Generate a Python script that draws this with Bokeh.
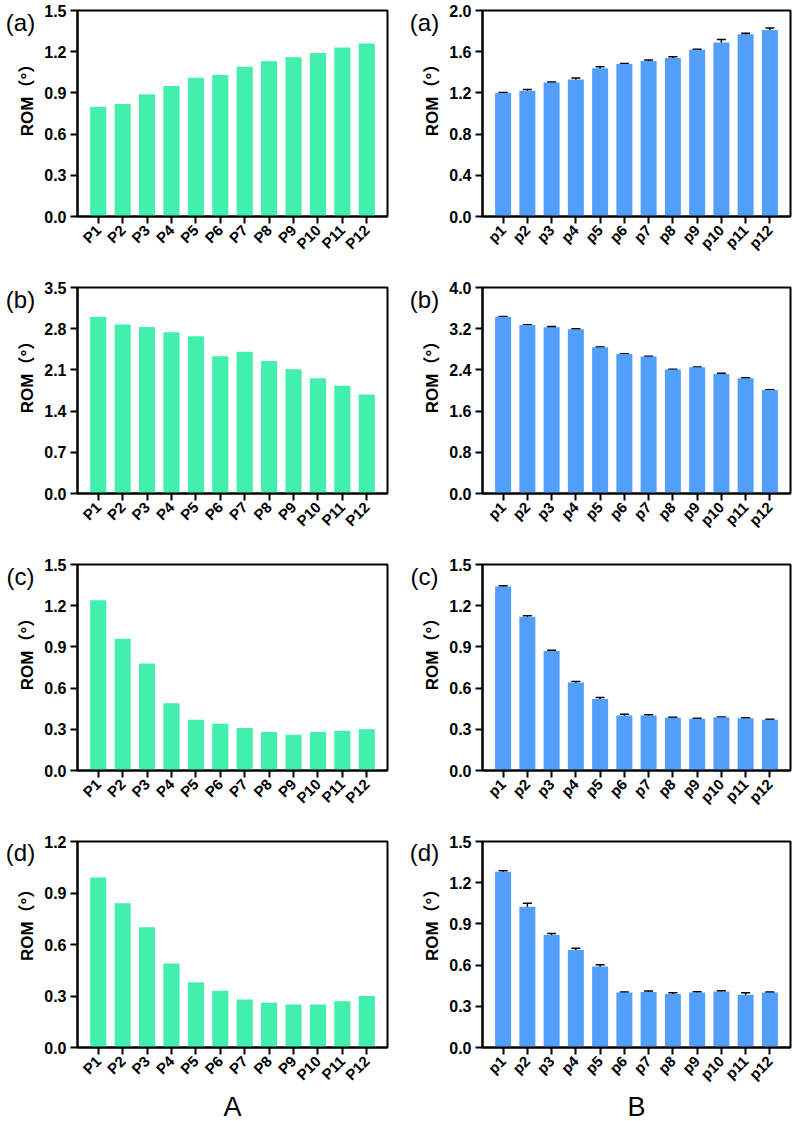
import math
from bokeh.plotting import figure
from bokeh.models import (FactorRange, Range1d, FixedTicker, PrintfTickFormatter,
                          Whisker, TeeHead, ColumnDataSource)
from bokeh.core.properties import value
from bokeh.layouts import column, row
from bokeh.embed import file_html
from bokeh.resources import INLINE

# ---------------- data ----------------
cats_A = ["P1", "P2", "P3", "P4", "P5", "P6", "P7", "P8", "P9", "P10", "P11", "P12"]
cats_B = ["p1", "p2", "p3", "p4", "p5", "p6", "p7", "p8", "p9", "p10", "p11", "p12"]

A_a = [0.80, 0.82, 0.89, 0.95, 1.01, 1.03, 1.09, 1.13, 1.16, 1.19, 1.23, 1.26]
A_b = [3.00, 2.87, 2.83, 2.74, 2.67, 2.33, 2.41, 2.25, 2.11, 1.96, 1.83, 1.68]
A_c = [1.24, 0.96, 0.78, 0.49, 0.37, 0.34, 0.31, 0.28, 0.26, 0.28, 0.29, 0.30]
A_d = [0.99, 0.84, 0.70, 0.49, 0.38, 0.33, 0.28, 0.26, 0.25, 0.25, 0.27, 0.30]

B_a = [1.20, 1.22, 1.30, 1.33, 1.44, 1.48, 1.51, 1.54, 1.62, 1.69, 1.77, 1.81]
B_a_err = [0.004, 0.012, 0.005, 0.015, 0.015, 0.005, 0.010, 0.012, 0.005, 0.028, 0.010, 0.020]
B_b = [3.43, 3.27, 3.23, 3.19, 2.84, 2.71, 2.66, 2.41, 2.45, 2.32, 2.24, 2.01]
B_b_err = [0.005, 0.005, 0.012, 0.008, 0.006, 0.006, 0.006, 0.005, 0.008, 0.015, 0.006, 0.006]
B_c = [1.34, 1.12, 0.87, 0.64, 0.52, 0.40, 0.40, 0.385, 0.377, 0.387, 0.38, 0.37]
B_c_err = [0.006, 0.007, 0.005, 0.008, 0.012, 0.010, 0.006, 0.003, 0.003, 0.003, 0.004, 0.004]
B_d = [1.28, 1.025, 0.82, 0.71, 0.59, 0.40, 0.405, 0.39, 0.40, 0.408, 0.385, 0.40]
B_d_err = [0.007, 0.025, 0.010, 0.012, 0.012, 0.005, 0.006, 0.008, 0.006, 0.006, 0.014, 0.004]

yticks_A = [
    [0.0, 0.3, 0.6, 0.9, 1.2, 1.5],
    [0.0, 0.7, 1.4, 2.1, 2.8, 3.5],
    [0.0, 0.3, 0.6, 0.9, 1.2, 1.5],
    [0.0, 0.3, 0.6, 0.9, 1.2],
]
yticks_B = [
    [0.0, 0.4, 0.8, 1.2, 1.6, 2.0],
    [0.0, 0.8, 1.6, 2.4, 3.2, 4.0],
    [0.0, 0.3, 0.6, 0.9, 1.2, 1.5],
    [0.0, 0.3, 0.6, 0.9, 1.2, 1.5],
]
panel_letters = ["(a)", "(b)", "(c)", "(d)"]
y_label = "ROM（°）"
group_labels = ["A", "B"]

GREEN = "#42EFAD"
BLUE = "#529FFA"
FONT = "Liberation Sans"
FRAME_H = 206
TOP = 10


def side_panel(width, height, letter, lab_x, lab_y, rom_x, rom_y):
    """Narrow figure holding the panel letter and the rotated y-axis title."""
    p = figure(width=width, height=height, x_range=Range1d(0, width), y_range=Range1d(0, height),
               min_border=0, x_axis_type=None, y_axis_type=None,
               output_backend="svg", toolbar_location=None, tools="")
    p.xgrid.visible = False
    p.ygrid.visible = False
    p.outline_line_color = None
    p.text(x=[lab_x], y=[height - lab_y], text=[letter], text_font=value(FONT),
           text_font_size="24px", text_align="center", text_baseline="middle", text_color="black")
    p.text(x=[rom_x], y=[height - rom_y], text=[y_label], angle=math.pi / 2,
           text_font=value(FONT + ", Noto Sans CJK SC"), text_font_style="bold",
           text_font_size="17px", text_align="center", text_baseline="middle", text_color="black")
    return p


def make_panel(cats, vals, errs, ticks, color, left_col, last, bottom_text=None):
    if left_col:
        bl, br, fw = 40, 9, 310
    else:
        bl, br, fw = 38, 2, 308
    bb = 68 if last else 277 - TOP - FRAME_H
    p = figure(
        x_range=FactorRange(*cats, range_padding=0.35, range_padding_units="absolute"),
        y_range=Range1d(0, ticks[-1]),
        frame_width=fw, frame_height=FRAME_H,
        min_border_left=bl, min_border_right=br, min_border_top=TOP, min_border_bottom=bb,
        output_backend="svg", toolbar_location=None, tools="",
    )
    src = ColumnDataSource(dict(x=cats, top=vals))
    p.vbar(x="x", top="top", width=0.66, source=src, fill_color=color, line_color=None)
    if errs is not None:
        esrc = ColumnDataSource(dict(
            x=cats,
            upper=[v + e for v, e in zip(vals, errs)],
            lower=[v - e for v, e in zip(vals, errs)],
        ))
        w = Whisker(source=esrc, base="x", upper="upper", lower="lower",
                    line_color="black", line_width=1.5,
                    upper_head=TeeHead(size=9, line_color="black", line_width=1.5),
                    lower_head=TeeHead(size=9, line_color="black", line_width=1.5))
        p.add_layout(w)

    p.xgrid.visible = False
    p.ygrid.visible = False
    p.outline_line_color = "black"
    p.outline_line_width = 2
    p.outline_line_alpha = 1.0

    for ax in (p.xaxis[0], p.yaxis[0]):
        ax.axis_line_width = 2
        ax.axis_line_color = "black"
        ax.major_tick_line_width = 2
        ax.major_tick_line_color = "black"
        ax.major_tick_in = 0
        ax.major_tick_out = 7
        ax.minor_tick_line_color = None
        ax.major_label_text_font = FONT
        ax.major_label_text_font_style = "bold"
        ax.major_label_text_color = "black"

    yax = p.yaxis[0]
    yax.ticker = FixedTicker(ticks=ticks)
    yax.formatter = PrintfTickFormatter(format="%.1f")
    yax.major_label_text_font_size = "16px"
    yax.major_label_standoff = 4

    xax = p.xaxis[0]
    xax.major_label_orientation = 0.785398
    xax.major_label_text_font_size = "15px"
    xax.major_label_standoff = 4
    if bottom_text is not None:
        xax.axis_label = bottom_text
        xax.axis_label_text_font = FONT
        xax.axis_label_text_font_style = "normal"
        xax.axis_label_text_font_size = "27px"
        xax.axis_label_text_color = "black"
        xax.axis_label_standoff = 0
    return p


A_vals = [A_a, A_b, A_c, A_d]
B_vals = [B_a, B_b, B_c, B_d]
B_errs = [B_a_err, B_b_err, B_c_err, B_d_err]

rows = []
for i in range(4):
    last = (i == 3)
    h = 284 if last else 277
    sl = side_panel(37, h, panel_letters[i], 20, 16, 27, TOP + FRAME_H / 2 + 2)
    left = make_panel(cats_A, A_vals[i], None, yticks_A[i], GREEN, True, last,
                      group_labels[0] if last else None)
    sr = side_panel(48, h, panel_letters[i], 28, 16, 36, TOP + FRAME_H / 2 + 2)
    right = make_panel(cats_B, B_vals[i], B_errs[i], yticks_B[i], BLUE, False, last,
                       group_labels[1] if last else None)
    rows.append(row(sl, left, sr, right))

layout = column(*rows)
open("out.html", "w").write(file_html(layout, INLINE))
